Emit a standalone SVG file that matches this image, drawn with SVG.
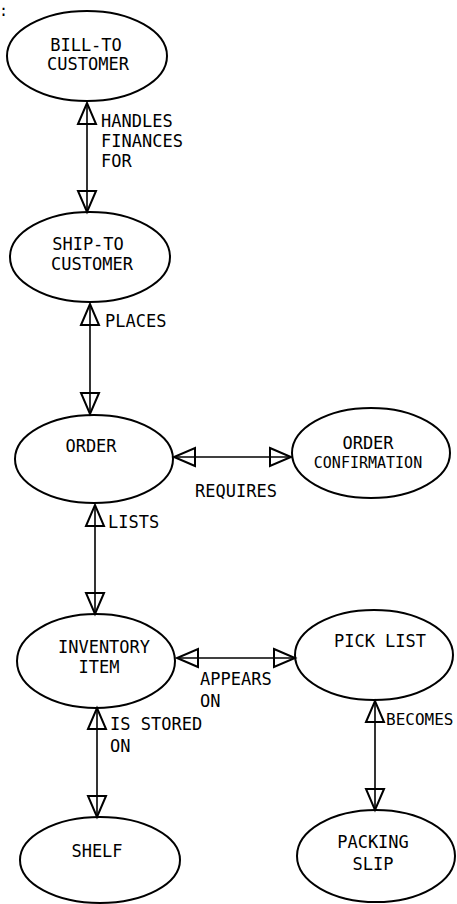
<svg xmlns="http://www.w3.org/2000/svg" width="457" height="904" viewBox="0 0 457 904">
<style>
.n{fill:none;stroke:#000;stroke-width:2}
.t{font-family:"DejaVu Sans Mono","Liberation Mono",monospace;font-size:17px;fill:#000}
.c{text-anchor:middle}
.e{stroke:#000;stroke-width:1.6;fill:none;marker-start:url(#tri);marker-end:url(#tri)}
</style>
<defs>
<marker id="tri" markerUnits="userSpaceOnUse" markerWidth="28" markerHeight="24" viewBox="-3 -12 28 24" refX="21" refY="0" orient="auto-start-reverse">
<path d="M0,-9 L21,0 L0,9 Z" fill="none" stroke="#000" stroke-width="2" stroke-linejoin="miter"/>
</marker>
</defs>
<rect width="457" height="904" fill="#fff"/>
<text class="t" x="-1" y="16" style="font-size:15px">:</text>
<g id="connectors">
<line class="e" x1="87" y1="103" x2="87" y2="212"/>
<line class="e" x1="90" y1="304" x2="90" y2="414"/>
<line class="e" x1="174" y1="457" x2="291" y2="457"/>
<line class="e" x1="95" y1="505" x2="95" y2="614"/>
<line class="e" x1="177" y1="658" x2="295" y2="658"/>
<line class="e" x1="97" y1="708" x2="97" y2="817"/>
<line class="e" x1="375" y1="701" x2="375" y2="810"/>
<text class="t" x="101" y="127">HANDLES</text>
<text class="t" x="101" y="147">FINANCES</text>
<text class="t" x="101" y="167">FOR</text>
<text class="t" x="105" y="327">PLACES</text>
<text class="t c" x="236" y="497">REQUIRES</text>
<text class="t" x="108" y="528">LISTS</text>
<text class="t" x="200" y="685">APPEARS</text>
<text class="t" x="200" y="707">ON</text>
<text class="t" x="110" y="730">IS STORED</text>
<text class="t" x="110" y="752">ON</text>
<text class="t" x="386" y="725" style="font-size:16px">BECOMES</text>
</g>
<g id="bill-to-customer">
<ellipse class="n" cx="87" cy="56" rx="80" ry="45"/>
<text class="t c" x="86" y="51">BILL-TO</text>
<text class="t c" x="88" y="70">CUSTOMER</text>
</g>
<g id="ship-to-customer">
<ellipse class="n" cx="90" cy="257" rx="80" ry="45"/>
<text class="t c" x="88" y="250">SHIP-TO</text>
<text class="t c" x="92" y="270">CUSTOMER</text>
</g>
<g id="order">
<ellipse class="n" cx="94" cy="459" rx="79" ry="44"/>
<text class="t c" x="91" y="452">ORDER</text>
</g>
<g id="order-confirmation">
<ellipse class="n" cx="371" cy="453" rx="79" ry="45"/>
<text class="t c" x="368" y="449">ORDER</text>
<text class="t c" x="368" y="468" style="font-size:15px">CONFIRMATION</text>
</g>
<g id="inventory-item">
<ellipse class="n" cx="96" cy="661" rx="79" ry="47"/>
<text class="t c" x="104" y="653">INVENTORY</text>
<text class="t c" x="99" y="673">ITEM</text>
</g>
<g id="pick-list">
<ellipse class="n" cx="374" cy="655" rx="79" ry="45"/>
<text class="t c" x="380" y="647">PICK LIST</text>
</g>
<g id="shelf">
<ellipse class="n" cx="100" cy="860" rx="80" ry="43"/>
<text class="t c" x="97" y="857">SHELF</text>
</g>
<g id="packing-slip">
<ellipse class="n" cx="376" cy="856" rx="79" ry="46"/>
<text class="t c" x="373" y="848">PACKING</text>
<text class="t c" x="373" y="870">SLIP</text>
</g>
</svg>
